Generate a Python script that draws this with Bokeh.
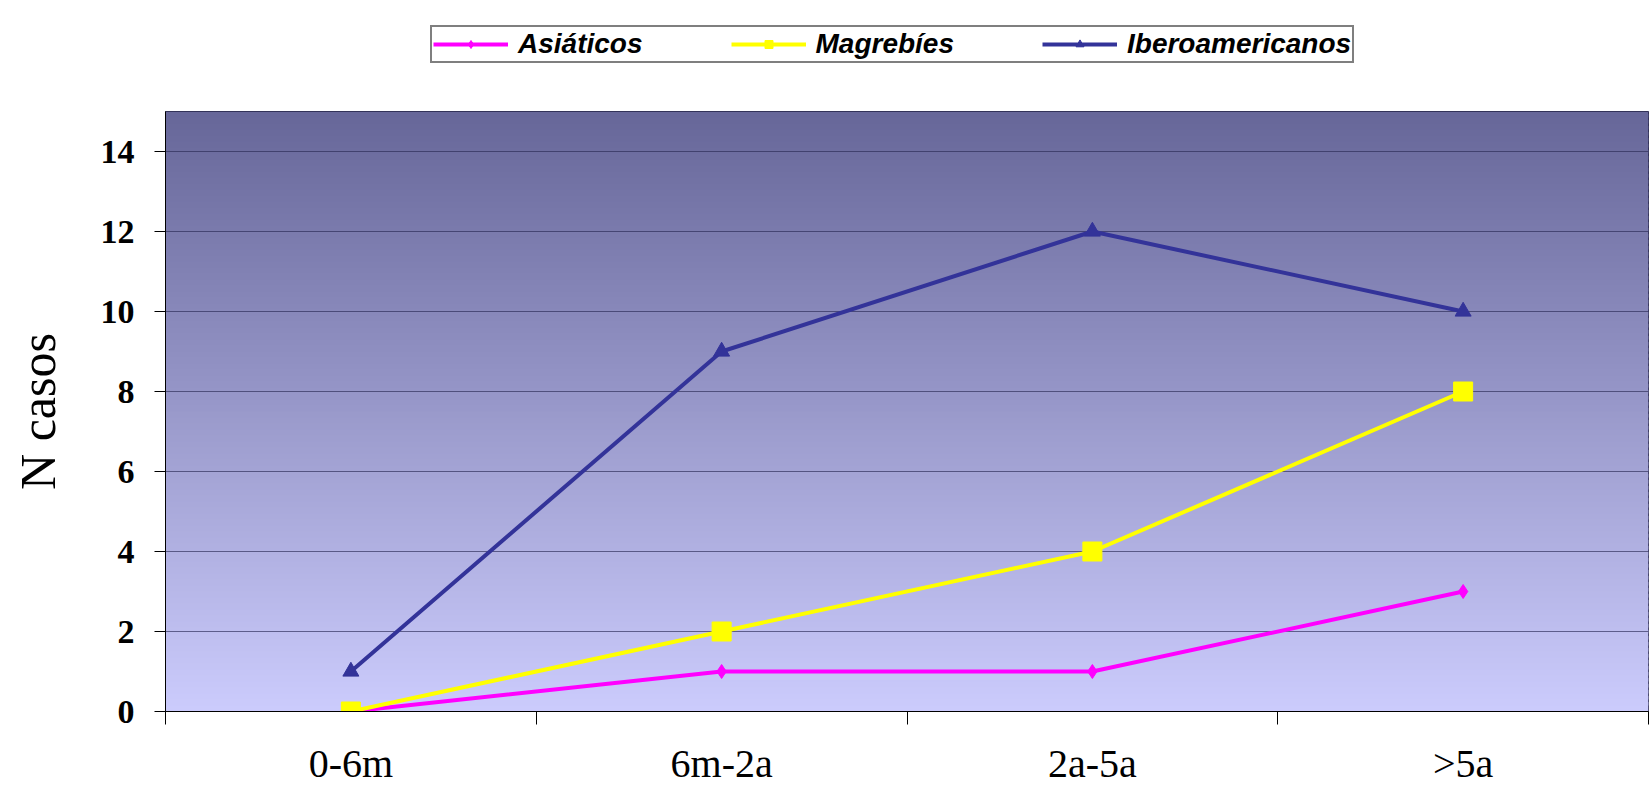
import numpy as np
from bokeh.plotting import figure
from bokeh.layouts import column
from bokeh.models import FixedTicker, Legend, LegendItem, Range1d
from bokeh.embed import file_html
from bokeh.resources import INLINE

categories = ["0-6m", "6m-2a", "2a-5a", ">5a"]
asiaticos = [0, 1, 1, 3]
magrebies = [0, 2, 4, 8]
iberoamericanos = [1, 9, 12, 10]
series_names = ["Asiáticos", "Magrebíes", "Iberoamericanos"]
y_ticks = [0, 2, 4, 6, 8, 10, 12, 14]

n = len(categories)
xs = [i + 0.5 for i in range(n)]
y_max = 15

specs = [
    (asiaticos, "#ff00ff", "diamond", 14),
    (magrebies, "#ffff00", "square", 19),
    (iberoamericanos, "#333399", "triangle", 16),
]

# ---------------- main chart ----------------
p = figure(width=1652, height=678,
           min_border_left=165, min_border_right=4, min_border_top=0, min_border_bottom=78,
           x_range=Range1d(0, n), y_range=Range1d(0, y_max),
           output_backend="svg", toolbar_location=None)
p.background_fill_color = "#c9c9f8"
p.border_fill_color = "white"
p.outline_line_color = "#222244"
p.outline_line_width = 1

# gradient background (decorative)
steps = 100
edges = np.linspace(0, y_max, steps + 1)
dh = edges[1] - edges[0]
top_rgb = np.array([102, 102, 153])
bot_rgb = np.array([204, 204, 252])
cols = []
for k in range(steps):
    t = (k + 0.5) / steps
    c = bot_rgb + (top_rgb - bot_rgb) * t
    cols.append("#%02x%02x%02x" % tuple(int(round(v)) for v in c))
p.quad(left=0, right=n, bottom=edges[:-1], top=np.minimum(edges[1:] + dh * 0.6, y_max),
       fill_color=cols, line_color=None, level="image")

p.xgrid.visible = False
p.ygrid.ticker = FixedTicker(ticks=y_ticks)
p.ygrid.grid_line_color = "#2a2a55"
p.ygrid.grid_line_alpha = 0.65
p.ygrid.grid_line_width = 1

p.yaxis.ticker = FixedTicker(ticks=y_ticks)
p.yaxis.major_label_text_font = "Liberation Serif"
p.yaxis.major_label_text_font_style = "bold"
p.yaxis.major_label_text_font_size = "34px"
p.yaxis.major_label_text_color = "black"
p.yaxis.major_tick_out = 11
p.yaxis.major_tick_in = 0
p.yaxis.minor_tick_line_color = None
p.yaxis.axis_line_color = "black"
p.yaxis.major_tick_line_color = "black"
p.yaxis.major_label_standoff = 20
p.yaxis.axis_label = "N casos"
p.yaxis.axis_label_text_font = "Liberation Serif"
p.yaxis.axis_label_text_font_style = "normal"
p.yaxis.axis_label_text_font_size = "50px"
p.yaxis.axis_label_text_color = "black"
p.yaxis.axis_label_standoff = 32

p.xaxis.ticker = FixedTicker(ticks=xs, minor_ticks=list(range(n + 1)))
p.xaxis.major_label_overrides = {x: c for x, c in zip(xs, categories)}
p.xaxis.major_tick_out = 0
p.xaxis.major_tick_in = 0
p.xaxis.minor_tick_out = 13
p.xaxis.minor_tick_in = 0
p.xaxis.minor_tick_line_color = "black"
p.xaxis.minor_tick_line_width = 1
p.xaxis.axis_line_color = "black"
p.xaxis.major_label_text_font = "Liberation Serif"
p.xaxis.major_label_text_font_style = "normal"
p.xaxis.major_label_text_font_size = "40px"
p.xaxis.major_label_text_color = "black"
p.xaxis.major_label_standoff = 16

for vals, col, mk, sz in specs:
    p.line(xs, vals, line_color=col, line_width=4)
    p.scatter(xs, vals, marker=mk, size=sz, fill_color=col, line_color=col)

# ---------------- legend strip ----------------
lg = figure(width=1652, height=111, min_border=0,
            x_range=Range1d(0, 1), y_range=Range1d(0, 1),
            output_backend="svg", toolbar_location=None)
lg.axis.visible = False
lg.grid.visible = False
lg.outline_line_color = None
lg.background_fill_color = "white"
lg.border_fill_color = "white"

# proxy renderers for the legend (kept outside the visible range)
items = []
for name, (vals, col, mk, sz) in zip(series_names, specs):
    l = lg.line([-5, -4], [-5, -5], line_color=col, line_width=4)
    s = lg.scatter([-5], [-5], marker=mk, size=12, fill_color=col, line_color=col)
    items.append(LegendItem(label=name, renderers=[l, s]))

legend = Legend(items=items, orientation="horizontal", location=(265, 48))
legend.label_text_font = "Liberation Sans"
legend.label_text_font_style = "bold italic"
legend.label_text_font_size = "28px"
legend.label_text_color = "black"
legend.border_line_color = "black"
legend.border_line_width = 2
legend.background_fill_color = "white"
legend.background_fill_alpha = 1
legend.margin = 0
legend.padding = 1
legend.spacing = 88
legend.glyph_width = 75
legend.glyph_height = 20
legend.label_standoff = 10
legend.label_height = 20
lg.add_layout(legend, "center")

layout = column(lg, p, spacing=0)
open("out.html", "w").write(file_html(layout, INLINE))
